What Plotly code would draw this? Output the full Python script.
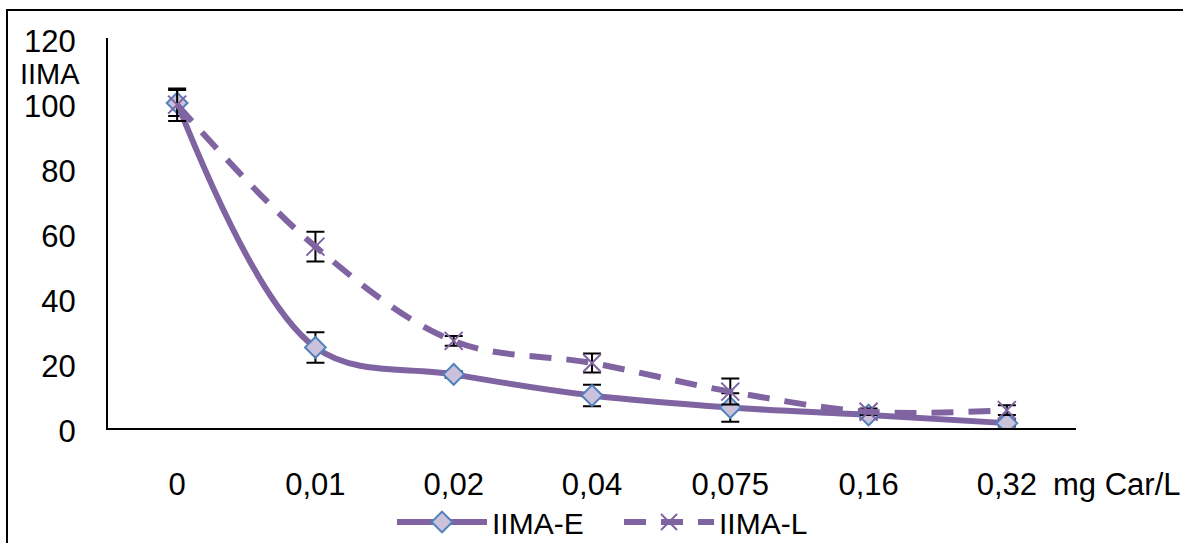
import plotly.graph_objects as go

categories = ["0", "0,01", "0,02", "0,04", "0,075", "0,16", "0,32"]
iima_e = [100, 24.8, 16.5, 10.0, 6.3, 4.0, 1.5]
iima_e_err = [4, 4.7, 1, 3.3, 4.4, 1, 1]
iima_l = [99.5, 55.8, 26.8, 20.0, 11.2, 5.0, 5.5]
iima_l_err = [5, 4.6, 1.5, 2.9, 4.0, 1, 1.5]
y_ticks = [0, 20, 40, 60, 80, 100, 120]

PURPLE = "#8064A2"
FONT = "Liberation Sans, Arial, sans-serif"
FS = 31

# plot area in pixels
L, R, T, B = 108, 1076, 38, 428
W, H = 1183, 543
def px_x(p):
    return (p - L) / (R - L)
def px_y(p):
    return (B - p) / (B - T)

x_idx = list(range(len(categories)))

fig = go.Figure()
fig.add_trace(go.Scatter(
    x=x_idx, y=iima_e, name="IIMA-E", mode="lines+markers",
    line=dict(color=PURPLE, width=6, shape="spline", smoothing=1),
    marker=dict(symbol="diamond", size=16, color="#CCC1DA",
                line=dict(color="#4F81BD", width=2)),
    error_y=dict(type="data", array=iima_e_err, color="black", thickness=2, width=9),
))
fig.add_trace(go.Scatter(
    x=x_idx, y=iima_l, name="IIMA-L", mode="lines+markers",
    line=dict(color=PURPLE, width=6, dash="22px,15px", shape="spline", smoothing=1),
    marker=dict(symbol="x-thin", size=18, color=PURPLE,
                line=dict(color=PURPLE, width=2)),
    error_y=dict(type="data", array=iima_l_err, color="black", thickness=2, width=9),
))

fig.update_layout(
    width=W, height=H,
    margin=dict(l=L, r=W - R, t=T, b=H - B, pad=0, autoexpand=False),
    paper_bgcolor="white", plot_bgcolor="white",
    font=dict(family=FONT, size=FS, color="black"),
    xaxis=dict(
        range=[-0.5, 6.5], tickmode="array", tickvals=x_idx, ticktext=categories,
        showgrid=False, zeroline=False, showline=True, linecolor="black", linewidth=2,
        ticks="", ticklabelstandoff=28, tickfont=dict(size=FS), automargin=False,
    ),
    yaxis=dict(
        range=[0, 120], tickmode="array", tickvals=y_ticks,
        ticktext=[str(v) for v in y_ticks],
        showgrid=False, zeroline=False, showline=True, linecolor="black", linewidth=2,
        ticks="", ticklabelstandoff=24, ticklabelshift=3, tickfont=dict(size=FS),
        automargin=False,
    ),
    legend=dict(orientation="h", x=px_x(392), xanchor="left", y=px_y(522),
                yanchor="middle", font=dict(size=30), bgcolor="rgba(0,0,0,0)",
                itemwidth=90, entrywidth=122, entrywidthmode="pixels", tracegroupgap=0),
    showlegend=True,
    shapes=[dict(type="rect", xref="paper", yref="paper",
                 x0=px_x(7), x1=px_x(1200), y0=px_y(560), y1=px_y(10),
                 line=dict(color="black", width=2), layer="below")],
    annotations=[
        dict(text="IIMA", xref="paper", yref="paper", x=px_x(50), y=px_y(74),
             xanchor="center", yanchor="middle", showarrow=False, font=dict(size=29)),
        dict(text="mg Car/L", xref="paper", yref="paper", x=px_x(1051), y=px_y(485),
             xanchor="left", yanchor="middle", showarrow=False, font=dict(size=FS)),
    ],
)

fig.write_html("out.html")
